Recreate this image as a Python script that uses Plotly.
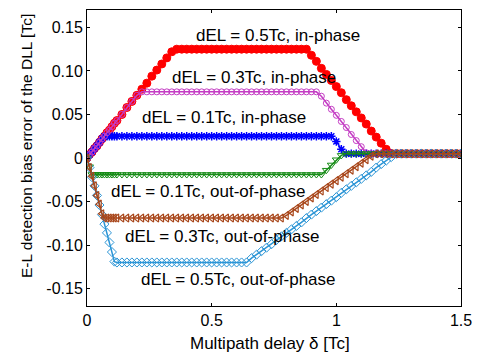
import plotly.graph_objects as go

# Multipath delay grid [Tc]
delay = [0.00, 0.01, 0.02, 0.03, 0.04, 0.05, 0.06, 0.07, 0.08, 0.09, 0.10, 0.11, 0.12,
         0.14, 0.16, 0.18, 0.20, 0.22, 0.24, 0.26, 0.28, 0.30, 0.32, 0.34, 0.36, 0.38,
         0.40, 0.42, 0.44, 0.46, 0.48, 0.50, 0.52, 0.54, 0.56, 0.58, 0.60, 0.62, 0.64,
         0.66, 0.68, 0.70, 0.72, 0.74, 0.76, 0.78, 0.80, 0.82, 0.84, 0.86, 0.88, 0.90,
         0.92, 0.94, 0.96, 0.98, 1.00, 1.02, 1.04, 1.06, 1.08, 1.10, 1.12, 1.14, 1.16,
         1.18, 1.20, 1.22, 1.24, 1.26, 1.28, 1.30, 1.32, 1.34, 1.36, 1.38, 1.40, 1.42,
         1.44, 1.46, 1.48, 1.50]

in_05 = [0, 0.004, 0.007, 0.011, 0.014, 0.018, 0.022, 0.025, 0.029, 0.032, 0.036, 0.040, 0.043,
         0.050, 0.058, 0.065, 0.072, 0.079, 0.086, 0.094, 0.101, 0.108, 0.115, 0.122, 0.125,
         0.125, 0.125, 0.125, 0.125, 0.125, 0.125, 0.125, 0.125, 0.125, 0.125, 0.125, 0.125, 0.125,
         0.125, 0.125, 0.125, 0.125, 0.125, 0.125, 0.125, 0.125, 0.125, 0.125, 0.125, 0.125, 0.125,
         0.118, 0.111, 0.103, 0.096, 0.089, 0.082, 0.075, 0.067, 0.060, 0.053, 0.046, 0.039, 0.031,
         0.024, 0.017, 0.010, 0.005,
         0.005, 0.005, 0.005, 0.005, 0.005, 0.005, 0.005, 0.005, 0.005, 0.005, 0.005, 0.005, 0.005, 0.005]

in_03 = [0, 0.004, 0.007, 0.011, 0.014, 0.018, 0.022, 0.025, 0.029, 0.032, 0.036, 0.040, 0.043,
         0.050, 0.058, 0.065, 0.072, 0.076,
         0.076, 0.076, 0.076, 0.076, 0.076, 0.076, 0.076, 0.076, 0.076, 0.076, 0.076, 0.076,
         0.076, 0.076, 0.076, 0.076, 0.076, 0.076, 0.076, 0.076, 0.076, 0.076, 0.076, 0.076,
         0.076, 0.076, 0.076, 0.076, 0.076, 0.076, 0.076, 0.076, 0.076, 0.076, 0.076,
         0.071, 0.063, 0.056, 0.049, 0.042, 0.035, 0.027, 0.020, 0.013, 0.006,
         0.005, 0.005, 0.005, 0.005, 0.005, 0.005, 0.005, 0.005, 0.005, 0.005, 0.005, 0.005,
         0.005, 0.005, 0.005, 0.005, 0.005, 0.005, 0.005]

in_01 = [0, 0.004, 0.007, 0.011, 0.014, 0.018, 0.022, 0.025, 0.025, 0.025, 0.025, 0.025, 0.025,
         0.025, 0.025, 0.025, 0.025, 0.025, 0.025, 0.025, 0.025, 0.025, 0.025, 0.025, 0.025,
         0.025, 0.025, 0.025, 0.025, 0.025, 0.025, 0.025, 0.025, 0.025, 0.025, 0.025, 0.025,
         0.025, 0.025, 0.025, 0.025, 0.025, 0.025, 0.025, 0.025, 0.025, 0.025, 0.025, 0.025,
         0.025, 0.025, 0.025, 0.025, 0.025, 0.025, 0.025,
         0.019, 0.010,
         0.005, 0.005, 0.005, 0.005, 0.005, 0.005, 0.005, 0.005, 0.005, 0.005, 0.005, 0.005,
         0.005, 0.005, 0.005, 0.005, 0.005, 0.005, 0.005, 0.005, 0.005, 0.005, 0.005, 0.005]

out_01 = [0, -0.010, -0.019, -0.019, -0.019, -0.019, -0.019, -0.019, -0.019, -0.019, -0.019, -0.019, -0.019,
          -0.019, -0.019, -0.019, -0.019, -0.019, -0.019, -0.019, -0.019, -0.019, -0.019, -0.019,
          -0.019, -0.019, -0.019, -0.019, -0.019, -0.019, -0.019, -0.019, -0.019, -0.019, -0.019,
          -0.019, -0.019, -0.019, -0.019, -0.019, -0.019, -0.019, -0.019, -0.019, -0.019, -0.019,
          -0.019, -0.019, -0.019, -0.019, -0.019, -0.019, -0.019, -0.019,
          -0.014, -0.008, -0.002, 0.003,
          0.005, 0.005, 0.005, 0.005, 0.005, 0.005, 0.005, 0.005, 0.005, 0.005, 0.005, 0.005,
          0.005, 0.005, 0.005, 0.005, 0.005, 0.005, 0.005, 0.005, 0.005, 0.005, 0.005, 0.005]

out_03 = [0, -0.011, -0.021, -0.032, -0.043, -0.053, -0.064, -0.069, -0.069, -0.069, -0.069, -0.069, -0.069,
          -0.069, -0.069, -0.069, -0.069, -0.069, -0.069, -0.069, -0.069, -0.069, -0.069, -0.069,
          -0.069, -0.069, -0.069, -0.069, -0.069, -0.069, -0.069, -0.069, -0.069, -0.069, -0.069,
          -0.069, -0.069, -0.069, -0.069, -0.069, -0.069, -0.069, -0.069, -0.069, -0.069, -0.069,
          -0.066, -0.062, -0.058, -0.054, -0.050, -0.046, -0.042, -0.038, -0.034, -0.030, -0.026,
          -0.022, -0.018, -0.014, -0.010, -0.006, -0.002, 0.002,
          0.005, 0.005, 0.005, 0.005, 0.005, 0.005, 0.005, 0.005, 0.005, 0.005, 0.005, 0.005,
          0.005, 0.005, 0.005, 0.005, 0.005, 0.005]

out_05 = [0, -0.011, -0.022, -0.032, -0.043, -0.054, -0.065, -0.076, -0.086, -0.097, -0.108, -0.119, -0.120,
          -0.120, -0.120, -0.120, -0.120, -0.120, -0.120, -0.120, -0.120, -0.120, -0.120, -0.120,
          -0.120, -0.120, -0.120, -0.120, -0.120, -0.120, -0.120, -0.120, -0.120, -0.120, -0.120,
          -0.120, -0.120, -0.120, -0.120,
          -0.115, -0.111, -0.107, -0.103, -0.099, -0.094, -0.090, -0.086, -0.082, -0.078, -0.074,
          -0.069, -0.065, -0.061, -0.057, -0.053, -0.049, -0.045, -0.040, -0.036, -0.032, -0.028,
          -0.024, -0.020, -0.016, -0.011, -0.007, -0.003, 0.001,
          0.005, 0.005, 0.005, 0.005, 0.005, 0.005, 0.005, 0.005, 0.005, 0.005, 0.005, 0.005,
          0.005, 0.005]

labels = ["dEL = 0.5Tc, in-phase", "dEL = 0.3Tc, in-phase", "dEL = 0.1Tc, in-phase",
          "dEL = 0.1Tc, out-of-phase", "dEL = 0.3Tc, out-of-phase", "dEL = 0.5Tc, out-of-phase"]
label_x = [0.765, 0.671, 0.548, 0.489, 0.542, 0.609]
label_y = [0.141, 0.093, 0.046, -0.0386, -0.0905, -0.140]

x_ticks = [0, 0.5, 1, 1.5]
x_ticktext = ["0", "0.5", "1", "1.5"]
y_ticks = [-0.15, -0.10, -0.05, 0, 0.05, 0.10, 0.15]
y_ticktext = ["-0.15", "-0.10", "-0.05", "0", "0.05", "0.10", "0.15"]

series = [
    (in_05, "#ff0000", "circle", 8, 1),
    (in_01, "#0000ff", "asterisk-open", 7, 1.5),
    (in_03, "#c43cc4", "circle-open", 6, 1),
    (out_01, "#168c16", "triangle-down-open", 7, 1),
    (out_05, "#2b95d6", "diamond-open", 7, 1),
    (out_03, "#a8461a", "triangle-left-open", 7, 1.2),
]

fig = go.Figure()
for ys, col, sym, sz, lw in series:
    assert len(ys) == len(delay), (col, len(ys))
    fig.add_trace(go.Scatter(
        x=delay, y=ys, mode="lines+markers",
        line=dict(color=col, width=1.5),
        marker=dict(symbol=sym, size=sz, color=col, line=dict(color=col, width=lw)),
        showlegend=False, hoverinfo="skip"))

font = "Liberation Sans, Arial, sans-serif"
for t, lx, ly in zip(labels, label_x, label_y):
    fig.add_annotation(x=lx, y=ly, text=t, showarrow=False, xanchor="center", yanchor="middle",
                       font=dict(family=font, size=17, color="black"))

fig.add_annotation(xref="paper", yref="paper", x=-0.162, y=0.542, text="E-L detection bias error of the DLL [Tc]",
                   textangle=-90, showarrow=False, xanchor="center", yanchor="middle",
                   font=dict(family=font, size=15.5, color="black"))
fig.add_annotation(xref="paper", yref="paper", x=0.49, y=-0.125, text="Multipath delay δ [Tc]",
                   showarrow=False, xanchor="center", yanchor="middle",
                   font=dict(family=font, size=17, color="black"))

axis_common = dict(showline=True, linecolor="black", linewidth=1, mirror="allticks",
                   ticks="inside", ticklen=3, tickcolor="black", showgrid=False, zeroline=False,
                   tickfont=dict(family=font, size=16, color="black"))
fig.update_xaxes(range=[0, 1.5], tickvals=x_ticks, ticktext=x_ticktext, **axis_common)
fig.update_yaxes(range=[-0.17, 0.17], tickvals=y_ticks, ticktext=y_ticktext, **axis_common)

fig.update_layout(width=481, height=356, margin=dict(l=87, r=13, t=9, b=50),
                  plot_bgcolor="white", paper_bgcolor="white")
fig.write_html("out.html", config={"displayModeBar": False},
               post_script="document.body.style.margin='0';")
